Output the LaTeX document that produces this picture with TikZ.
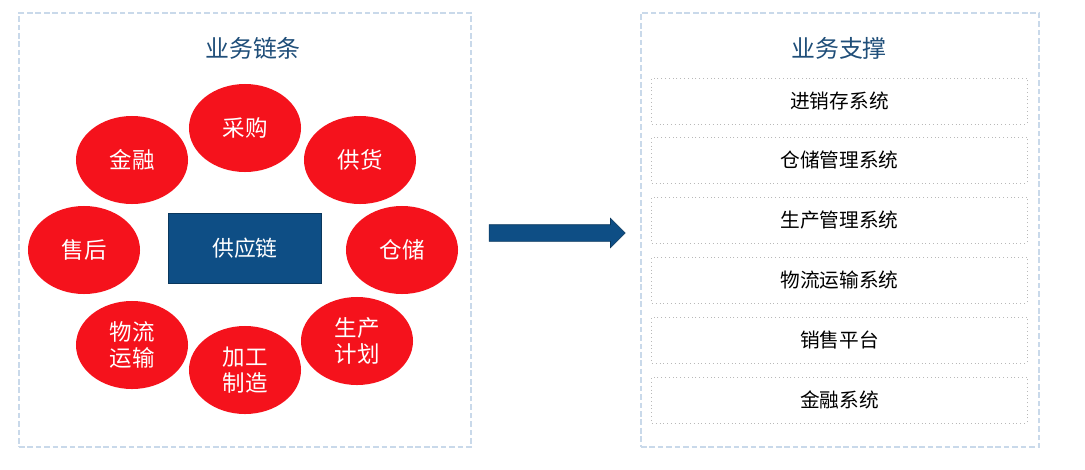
\documentclass[tikz,border=0pt]{standalone}
\usepackage{fontspec}
\setmainfont{Noto Sans CJK SC}
\usetikzlibrary{shapes.geometric,shapes.arrows}
\definecolor{panelblue}{HTML}{C9D9EA}
\definecolor{chainred}{HTML}{F5121C}
\definecolor{chainblue}{HTML}{0E4E85}
\definecolor{titleblue}{HTML}{1F4E79}
\tikzset{
  panel/.style={draw=panelblue, line width=1.2pt, dash pattern=on 4pt off 2pt},
  paneltitle/.style={text=titleblue, font=\fontsize{17}{20}\selectfont},
  chainlink/.style={ellipse, fill=chainred, text=white, inner sep=0pt, align=center,
    minimum width=2.8cm, minimum height=2.2cm, font=\fontsize{16}{18.5}\selectfont},
  sysbox/.style={draw=gray!55, dotted, line width=0.7pt, minimum width=9.375cm,
    minimum height=1.15cm, font=\fontsize{14}{16}\selectfont},
}
\begin{document}
\begin{tikzpicture}[x=0.025cm, y=-0.025cm]
    \useasboundingbox (0,0) rectangle (1085,469);
    % Panels
    \node[panel, minimum width=11.3cm, minimum height=10.85cm] (chainpanel) at (245,230) {};
    \node[panel, minimum width=9.95cm, minimum height=10.85cm] (supportpanel) at (840,230) {};
    \node[paneltitle] (chaintitle) at (253,48) {业务链条};
    \node[paneltitle] (supporttitle) at (839,48) {业务支撑};
    % Supply chain
    \node[fill=chainblue, draw=chainblue!70!black, text=white, minimum width=3.825cm, minimum height=1.75cm,
      font=\fontsize{15.5}{18}\selectfont] (core) at (245,248) {供应链};
    \node[chainlink] (purchase) at (245,128) {采购};
    \node[chainlink] (finance) at (132,160) {金融};
    \node[chainlink] (supply) at (360,160) {供货};
    \node[chainlink] (aftersale) at (84,250) {售后};
    \node[chainlink] (storage) at (402,250) {仓储};
    \node[chainlink] (logistics) at (132,345) {物流\\运输};
    \node[chainlink] (processing) at (245,370) {加工\\制造};
    \node[chainlink] (planning) at (357,341) {生产\\计划};
    % Arrow
    \node[single arrow, fill=chainblue, draw=chainblue!70!black, inner xsep=0pt, inner ysep=0.2cm,
      minimum height=3.4cm, single arrow head extend=0.16cm,
      single arrow tip angle=90] (flow) at (553,233) {};
    % Systems
    \node[sysbox] (inventory) at (839.5,101) {进销存系统};
    \node[sysbox] (warehouse) at (839.5,160) {仓储管理系统};
    \node[sysbox] (production) at (839.5,220) {生产管理系统};
    \node[sysbox] (transport) at (839.5,280) {物流运输系统};
    \node[sysbox] (sales) at (839.5,340) {销售平台};
    \node[sysbox] (financial) at (839.5,400) {金融系统};
\end{tikzpicture}
\end{document}
